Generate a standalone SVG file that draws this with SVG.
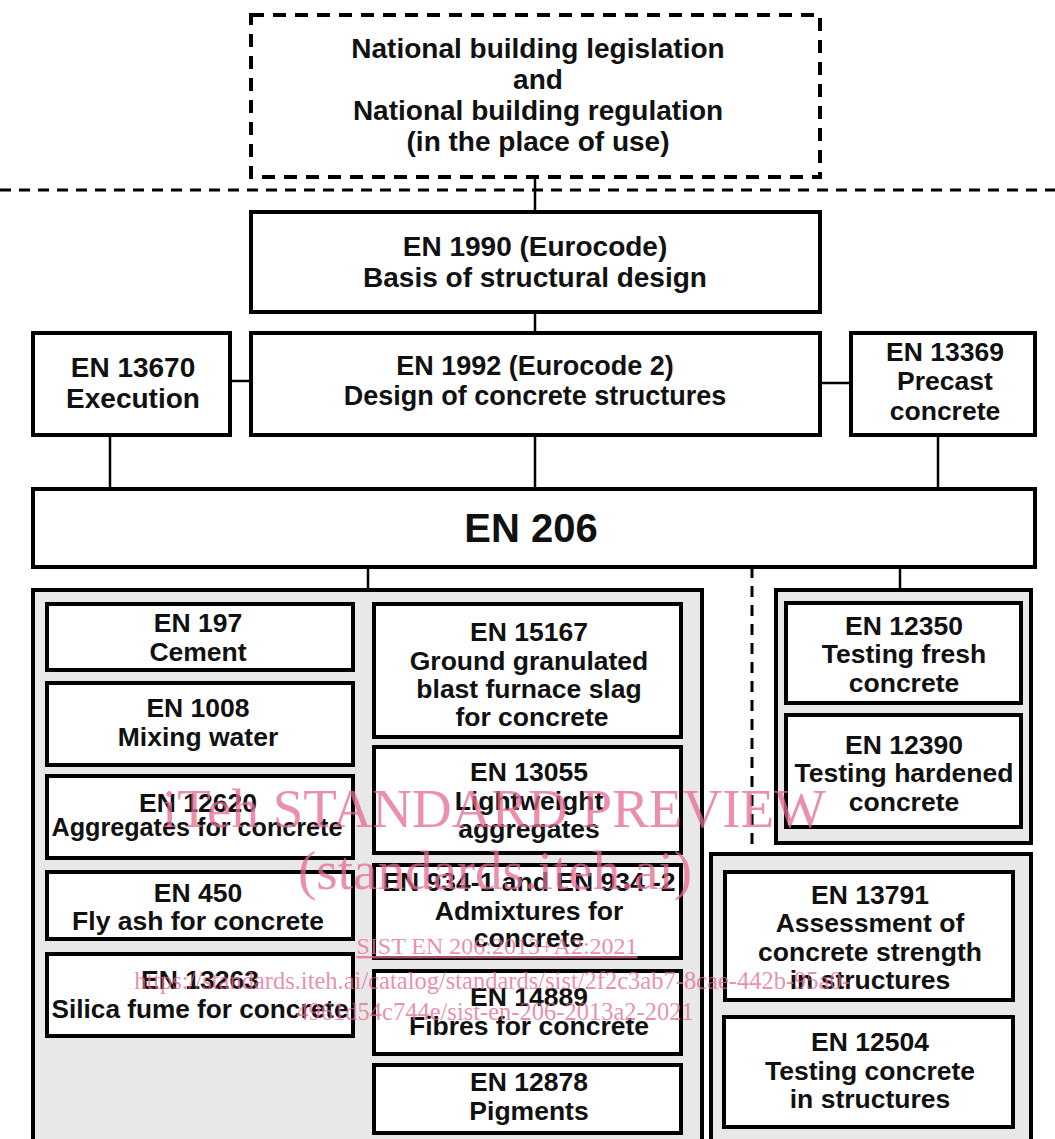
<svg xmlns="http://www.w3.org/2000/svg" width="1055" height="1139" viewBox="0 0 1055 1139">
<style>
.box{fill:#fff;stroke:#000;stroke-width:4}
.grp{fill:#e8e8e8;stroke:#000;stroke-width:4}
.dash{fill:#fff;stroke:#000;stroke-width:4;stroke-dasharray:13 9}
.ln{stroke:#000;stroke-width:2.5;fill:none}
.dl{stroke:#000;stroke-width:3;fill:none;stroke-dasharray:11 8}
text{font-family:"Liberation Sans",Arial,sans-serif;font-weight:bold;fill:#111;text-anchor:middle}
.t28{font-size:28px}
.t27{font-size:27px}
.t26{font-size:26.5px}
.big{font-size:40px}
.wm{font-family:"Liberation Serif","Times New Roman",serif;font-weight:normal;fill:#e46a91;fill-opacity:0.75}
</style>
<rect x="0" y="0" width="1055" height="1139" fill="#fff"/>
<g id="connectors">
<line class="dl" x1="0" y1="190" x2="1055" y2="190"/>
<line class="ln" x1="535" y1="177" x2="535" y2="212"/>
<line class="ln" x1="535" y1="312" x2="535" y2="333"/>
<line class="ln" x1="230" y1="381" x2="251" y2="381"/>
<line class="ln" x1="820" y1="383" x2="851" y2="383"/>
<line class="ln" x1="110" y1="435" x2="110" y2="489"/>
<line class="ln" x1="535" y1="435" x2="535" y2="489"/>
<line class="ln" x1="938" y1="435" x2="938" y2="489"/>
<line class="ln" x1="368" y1="567" x2="368" y2="590"/>
<line class="ln" x1="900" y1="567" x2="900" y2="590"/>
<line class="dl" x1="752" y1="567" x2="752" y2="854"/>
</g>
<g id="n-national">
<rect class="dash" x="251" y="15" width="569" height="162"/>
<text class="t28" x="538" y="58">National building legislation</text>
<text class="t28" x="538" y="89">and</text>
<text class="t28" x="538" y="120">National building regulation</text>
<text class="t28" x="538" y="151">(in the place of use)</text>
</g>
<g id="n-en1990">
<rect class="box" x="251" y="212" width="569" height="100"/>
<text class="t28" x="535" y="256">EN 1990 (Eurocode)</text>
<text class="t28" x="535" y="287">Basis of structural design</text>
</g>
<g id="n-en13670">
<rect class="box" x="33" y="333" width="197" height="102"/>
<text class="t28" x="133" y="377">EN 13670</text>
<text class="t28" x="133" y="408">Execution</text>
</g>
<g id="n-en1992">
<rect class="box" x="251" y="333" width="569" height="102"/>
<text class="t27" x="535" y="375">EN 1992 (Eurocode 2)</text>
<text class="t27" x="535" y="405">Design of concrete structures</text>
</g>
<g id="n-en13369">
<rect class="box" x="851" y="333" width="184" height="102"/>
<text class="t26" x="945" y="361">EN 13369</text>
<text class="t26" x="945" y="390">Precast</text>
<text class="t26" x="945" y="420">concrete</text>
</g>
<g id="n-en206">
<rect class="box" x="33" y="489" width="1002" height="78"/>
<text class="big" x="531" y="542">EN 206</text>
</g>
<g id="g-constituents">
<rect class="grp" x="33" y="590" width="669" height="560"/>
</g>
<g id="g-testing">
<rect class="grp" x="776" y="590" width="255" height="253"/>
</g>
<g id="g-assessment">
<rect class="grp" x="711" y="854" width="320" height="296"/>
</g>
<g id="n-en197">
<rect class="box" x="47" y="604" width="306" height="66"/>
<text class="t26" x="198" y="632">EN 197</text>
<text class="t26" x="198" y="661">Cement</text>
</g>
<g id="n-en1008">
<rect class="box" x="47" y="683" width="306" height="82"/>
<text class="t26" x="198" y="717">EN 1008</text>
<text class="t26" x="198" y="746">Mixing water</text>
</g>
<g id="n-en12620">
<rect class="box" x="47" y="776" width="306" height="82"/>
<text class="t26" x="198" y="812">EN 12620</text>
<text class="t26" x="197" y="836" textLength="291" lengthAdjust="spacingAndGlyphs">Aggregates for concrete</text>
</g>
<g id="n-en450">
<rect class="box" x="47" y="872" width="306" height="67"/>
<text class="t26" x="198" y="902">EN 450</text>
<text class="t26" x="198" y="930">Fly ash for concrete</text>
</g>
<g id="n-en13263">
<rect class="box" x="47" y="954" width="306" height="82"/>
<text class="t26" x="200" y="989">EN 13263</text>
<text class="t26" x="200" y="1018" textLength="297" lengthAdjust="spacingAndGlyphs">Silica fume for concrete</text>
</g>
<g id="n-en15167">
<rect class="box" x="374" y="604" width="307" height="133"/>
<text class="t26" x="529" y="641">EN 15167</text>
<text class="t26" x="529" y="670">Ground granulated</text>
<text class="t26" x="529" y="698">blast furnace slag</text>
<text class="t26" x="532" y="726">for concrete</text>
</g>
<g id="n-en13055">
<rect class="box" x="374" y="747" width="307" height="106"/>
<text class="t26" x="529" y="781">EN 13055</text>
<text class="t26" x="529" y="810">Lightweight</text>
<text class="t26" x="529" y="838">aggregates</text>
</g>
<g id="n-en934">
<rect class="box" x="374" y="865" width="307" height="93"/>
<text class="t26" x="529" y="891">EN 934-1 and EN 934 -2</text>
<text class="t26" x="529" y="920">Admixtures for</text>
<text class="t26" x="529" y="947">concrete</text>
</g>
<g id="n-en14889">
<rect class="box" x="374" y="971" width="307" height="83"/>
<text class="t26" x="529" y="1006">EN 14889</text>
<text class="t26" x="529" y="1035">Fibres for concrete</text>
</g>
<g id="n-en12878">
<rect class="box" x="374" y="1065" width="307" height="68"/>
<text class="t26" x="529" y="1091">EN 12878</text>
<text class="t26" x="529" y="1120">Pigments</text>
</g>
<g id="n-en12350">
<rect class="box" x="786" y="603" width="235" height="100"/>
<text class="t26" x="904" y="635">EN 12350</text>
<text class="t26" x="904" y="663">Testing fresh</text>
<text class="t26" x="904" y="692">concrete</text>
</g>
<g id="n-en12390">
<rect class="box" x="786" y="715" width="235" height="112"/>
<text class="t26" x="904" y="754">EN 12390</text>
<text class="t26" x="904" y="782">Testing hardened</text>
<text class="t26" x="904" y="811">concrete</text>
</g>
<g id="n-en13791">
<rect class="box" x="725" y="872" width="288" height="128"/>
<text class="t26" x="870" y="904">EN 13791</text>
<text class="t26" x="870" y="932">Assessment of</text>
<text class="t26" x="870" y="961">concrete strength</text>
<text class="t26" x="870" y="989">in structures</text>
</g>
<g id="n-en12504">
<rect class="box" x="724" y="1017" width="289" height="110"/>
<text class="t26" x="870" y="1051">EN 12504</text>
<text class="t26" x="870" y="1080">Testing concrete</text>
<text class="t26" x="870" y="1108">in structures</text>
</g>
<g id="watermark">
<text class="wm" x="494" y="827" font-size="55">iTeh STANDARD PREVIEW</text>
<text class="wm" x="495" y="889" font-size="55">(standards.iteh.ai)</text>
<text class="wm" x="497" y="954" font-size="24" text-decoration="underline">SIST EN 206:2013+A2:2021</text>
<text class="wm" x="492" y="989" font-size="24.5">https://standards.iteh.ai/catalog/standards/sist/2f2c3ab7-8cae-442b-95a0-</text>
<text class="wm" x="495" y="1020" font-size="24.5">4961d54c744e/sist-en-206-2013a2-2021</text>
</g>
</svg>
